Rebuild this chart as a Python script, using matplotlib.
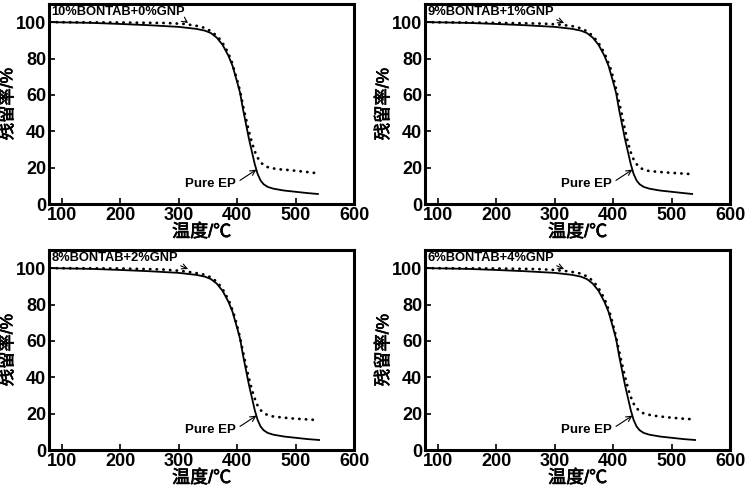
import numpy as np
import matplotlib.pyplot as plt
import matplotlib.patheffects as pe

plt.rcParams['font.family'] = ['Liberation Sans', 'Noto Sans CJK SC', 'DejaVu Sans']
plt.rcParams['font.weight'] = 'bold'

# temperature (degC) and residual mass (%)
ep_t = [80, 150, 200, 250, 300, 330, 345, 355, 365, 375, 385, 392, 400, 405, 410,
        415, 420, 425, 430, 435, 440, 445, 452, 462, 480, 500, 520, 538]
ep_m = [100, 99.6, 99, 98.3, 97.4, 96.3, 95.3, 94, 91.5, 87.5, 81.5, 76, 67, 61, 52,
        44, 36, 29, 22, 16.5, 13, 11, 9.5, 8.5, 7.5, 6.8, 6.1, 5.6]

titles = ['10%BONTAB+0%GNP', '9%BONTAB+1%GNP', '8%BONTAB+2%GNP', '6%BONTAB+4%GNP']

mix_t1 = [80, 200, 280, 310, 330, 345, 355, 365, 372, 380, 390, 400, 405, 410, 415,
          420, 425, 430, 435, 440, 447, 455, 470, 490, 510, 532]
mix_m1 = [100, 99.8, 99.5, 99, 98, 96.8, 95, 92.5, 90, 86, 79, 68, 62, 54, 47,
          40, 34, 29, 25.5, 23, 21, 20, 19.2, 18.7, 18, 17.2]

mix_t2 = [80, 200, 280, 310, 330, 345, 355, 365, 375, 385, 395, 403, 410, 415, 420,
          425, 430, 435, 440, 446, 452, 460, 475, 495, 515, 535]
mix_m2 = [100, 99.6, 99.2, 98.6, 97.8, 96.6, 95, 92.5, 88.5, 83, 75, 66, 56, 49, 41,
          34, 28.5, 24.5, 22, 20, 19, 18.3, 17.8, 17.3, 16.9, 16.5]

mix_t3 = [80, 200, 270, 300, 325, 345, 358, 368, 378, 388, 396, 404, 410, 416, 422,
          428, 434, 440, 446, 452, 460, 475, 495, 515, 540]
mix_m3 = [100, 99.8, 99.3, 98.6, 97.6, 96.3, 94.5, 91.5, 87, 80.5, 73, 63, 54, 45, 37,
          30, 25, 22, 20.3, 19.3, 18.6, 18, 17.4, 17, 16.5]

mix_t4 = [80, 200, 270, 300, 325, 345, 358, 368, 378, 388, 396, 404, 410, 416, 422,
          428, 434, 440, 446, 452, 460, 475, 495, 515, 540]
mix_m4 = [100, 99.8, 99.5, 99, 98.2, 97, 95, 92, 87.5, 81, 73.5, 63.5, 54.5, 46, 38,
          31, 26, 23, 21.3, 20.2, 19.5, 18.7, 18, 17.4, 16.9]

mix_t = [mix_t1, mix_t2, mix_t3, mix_t4]
mix_m = [mix_m1, mix_m2, mix_m3, mix_m4]
ep_end = [538, 535, 540, 540]

fig = plt.figure(figsize=(7.52, 4.92), dpi=100)
boxes = [(0.065, 0.585), (0.565, 0.585), (0.065, 0.085), (0.565, 0.085)]
bold = [pe.withStroke(linewidth=0.5, foreground='black')]

for i, (l, b) in enumerate(boxes):
    ax = fig.add_axes([l, b, 0.406, 0.407])
    t = np.array(ep_t, dtype=float)
    t[-1] = ep_end[i]
    ax.plot(t, ep_m, color='black', lw=1.3)
    ax.plot(mix_t[i], mix_m[i], color='black', lw=2.0,
            linestyle=(0, (0.1, 2.3)), dash_capstyle='round')
    ax.set_xlim(78, 600)
    ax.set_ylim(0, 110)
    ax.set_xticks([100, 200, 300, 400, 500, 600])
    ax.set_yticks([0, 20, 40, 60, 80, 100])
    ax.tick_params(direction='in', length=4, width=1.2, labelsize=13, pad=2)
    for s in ax.spines.values():
        s.set_linewidth(2.2)
    ax.set_xlabel('温度/℃', fontsize=13, labelpad=0, path_effects=bold)
    ax.set_ylabel('残留率/%', fontsize=12.5, path_effects=bold)
    ax.yaxis.set_label_coords(-0.11, 0.5)
    ax.annotate(titles[i], xy=(316, 99.5), xytext=(82, 105.5), fontsize=9.3,
                va='center', ha='left',
                arrowprops=dict(arrowstyle='->', lw=0.8, color='black',
                                shrinkA=0, shrinkB=0, relpos=(0.95, 0.2)))
    ax.annotate('Pure EP', xy=(433, 19), xytext=(311, 11), fontsize=9.5,
                va='center', ha='left',
                arrowprops=dict(arrowstyle='->', lw=0.8, color='black',
                                shrinkA=1, shrinkB=0, relpos=(1, 0.6)))

fig.savefig('out.png', dpi=100)
